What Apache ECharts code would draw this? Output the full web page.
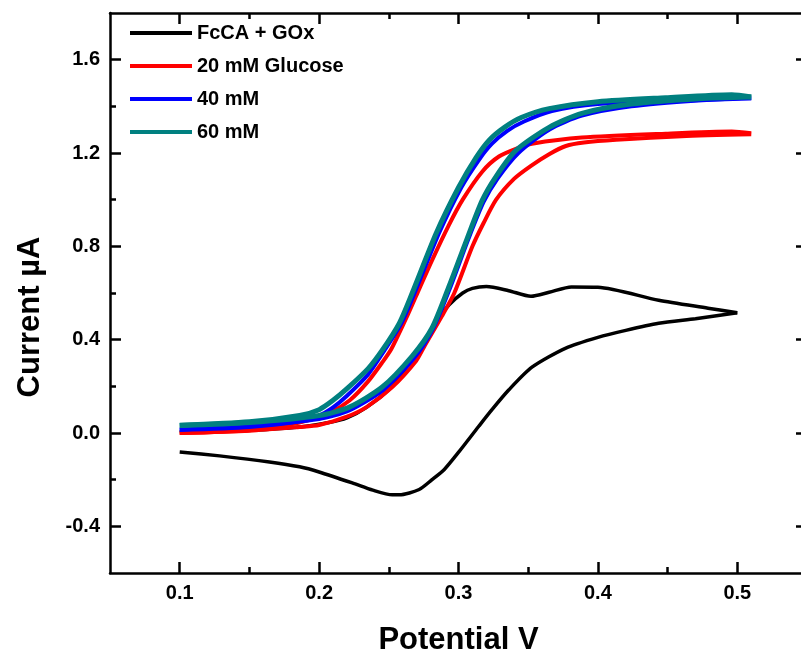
<!DOCTYPE html>
<html>
<head>
<meta charset="utf-8">
<script src="https://cdn.jsdelivr.net/npm/echarts@6/dist/echarts.min.js"></script>
<style>
  html, body { margin: 0; padding: 0; background: #fff; }
  #chart { width: 801px; height: 652px; }
</style>
</head>
<body>
<div id="chart"></div>
<script>
// Cyclic voltammograms: potential (V) vs current (µA), each scan split into its two branches.

// FcCA + GOx (no glucose)
const fcFwdPot = [0.10, 0.15, 0.186, 0.207, 0.22, 0.234, 0.2525, 0.2646, 0.2697, 0.281, 0.288, 0.2933, 0.303, 0.31, 0.32, 0.336, 0.352, 0.365, 0.381, 0.40, 0.4436, 0.479, 0.50];
const fcFwdCur = [0.005, 0.012, 0.026, 0.045, 0.065, 0.11, 0.20, 0.30, 0.345, 0.44, 0.51, 0.55, 0.60, 0.62, 0.628, 0.61, 0.586, 0.603, 0.626, 0.625, 0.569, 0.535, 0.515];
const fcRevPot = [0.50, 0.47, 0.4436, 0.42, 0.40, 0.377, 0.3527, 0.336, 0.324, 0.3147, 0.3004, 0.29, 0.281, 0.2718, 0.2575, 0.2525, 0.2385, 0.2238, 0.20, 0.186, 0.1644, 0.1286, 0.10];
const fcRevCur = [0.515, 0.49, 0.47, 0.44, 0.41, 0.364, 0.282, 0.184, 0.10, 0.03, -0.08, -0.155, -0.20, -0.242, -0.265, -0.265, -0.245, -0.214, -0.167, -0.145, -0.124, -0.098, -0.081];

// 20 mM glucose
const g20PotA = [0.10, 0.15, 0.186, 0.21, 0.222, 0.235, 0.245, 0.2518, 0.2646, 0.272, 0.281, 0.293, 0.303, 0.317, 0.329, 0.343, 0.3527, 0.3885, 0.4486, 0.496, 0.51];
const g20CurA = [0.0, 0.012, 0.045, 0.095, 0.14, 0.22, 0.30, 0.36, 0.52, 0.62, 0.74, 0.89, 1.00, 1.12, 1.185, 1.222, 1.24, 1.266, 1.283, 1.292, 1.285];
const g20PotB = [0.51, 0.46, 0.413, 0.39, 0.377, 0.365, 0.352, 0.34, 0.327, 0.318, 0.31, 0.297, 0.288, 0.2754, 0.2697, 0.2525, 0.234, 0.22, 0.20, 0.186, 0.15, 0.10];
const g20CurB = [1.28, 1.272, 1.257, 1.245, 1.23, 1.195, 1.145, 1.09, 1.0, 0.90, 0.80, 0.60, 0.50, 0.37, 0.31, 0.197, 0.111, 0.07, 0.034, 0.026, 0.01, 0.0];

// 40 mM glucose
const g40PotA = [0.10, 0.15, 0.186, 0.20, 0.21, 0.22, 0.235, 0.247, 0.259, 0.2685, 0.286, 0.302, 0.3146, 0.324, 0.335, 0.347, 0.367, 0.40, 0.4486, 0.496, 0.51];
const g40CurA = [0.013, 0.026, 0.05, 0.075, 0.11, 0.16, 0.25, 0.355, 0.47, 0.60, 0.856, 1.052, 1.17, 1.24, 1.295, 1.335, 1.38, 1.41, 1.422, 1.432, 1.435];
const g40PotB = [0.51, 0.472, 0.424, 0.3885, 0.365, 0.343, 0.328, 0.318, 0.307, 0.2945, 0.282, 0.268, 0.246, 0.222, 0.20, 0.15, 0.10];
const g40CurB = [1.435, 1.425, 1.40, 1.36, 1.30, 1.20, 1.09, 0.99, 0.83, 0.63, 0.45, 0.32, 0.185, 0.098, 0.06, 0.03, 0.015];

// 60 mM glucose
const g60PotA = [0.10, 0.15, 0.186, 0.20, 0.21, 0.22, 0.235, 0.2453, 0.2575, 0.2668, 0.284, 0.30, 0.3126, 0.322, 0.333, 0.345, 0.365, 0.40, 0.4486, 0.496, 0.51];
const g60CurA = [0.033, 0.048, 0.075, 0.10, 0.14, 0.19, 0.275, 0.355, 0.47, 0.60, 0.856, 1.052, 1.18, 1.255, 1.31, 1.352, 1.39, 1.42, 1.437, 1.45, 1.44];
const g60PotB = [0.51, 0.472, 0.424, 0.3885, 0.365, 0.341, 0.327, 0.317, 0.306, 0.2933, 0.281, 0.2668, 0.2453, 0.2217, 0.20, 0.15, 0.10];
const g60CurB = [1.44, 1.433, 1.41, 1.37, 1.31, 1.21, 1.10, 0.997, 0.83, 0.63, 0.45, 0.33, 0.197, 0.111, 0.075, 0.045, 0.032];

const seriesNames = ['FcCA + GOx', '20 mM Glucose', '40 mM', '60 mM'];

// Axis ticks
const xMajor = [0.1, 0.2, 0.3, 0.4, 0.5];
const xMinor = [0.15, 0.25, 0.35, 0.45];
const yMajor = [-0.4, 0.0, 0.4, 0.8, 1.2, 1.6];
const yMinor = [-0.2, 0.2, 0.6, 1.0, 1.4];

const zip = (xs, ys) => xs.map((x, i) => [x, ys[i]]);

const FONT = 'Liberation Sans, Arial, sans-serif';
const AXIS_W = 2.5;

function branch(name, color, width, xs, ys) {
  return {
    name: name,
    type: 'line',
    data: zip(xs, ys),
    showSymbol: false,
    smooth: 0.25,
    lineStyle: { color: color, width: width },
    itemStyle: { color: color },
    silent: true
  };
}

function xAxisDef(pos, ticks, len, withLine, withLabel) {
  return {
    type: 'value', position: pos, min: 0.05, max: 0.55,
    axisLine: { show: withLine, onZero: false, lineStyle: { color: '#000', width: AXIS_W } },
    axisTick: { show: true, inside: true, length: len, customValues: ticks, lineStyle: { color: '#000', width: AXIS_W } },
    axisLabel: withLabel ? {
      show: true, customValues: ticks, formatter: v => v.toFixed(1), margin: 10,
      color: '#000', fontSize: 20, fontWeight: 'bold', fontFamily: FONT
    } : { show: false },
    splitLine: { show: false }
  };
}

function yAxisDef(pos, ticks, len, withLine, withLabel) {
  return {
    type: 'value', position: pos, min: -0.6, max: 1.8,
    axisLine: { show: withLine, onZero: false, lineStyle: { color: '#000', width: AXIS_W } },
    axisTick: { show: true, inside: true, length: len, customValues: ticks, lineStyle: { color: '#000', width: AXIS_W } },
    axisLabel: withLabel ? {
      show: true, customValues: ticks, formatter: v => v.toFixed(1), margin: 10,
      color: '#000', fontSize: 20, fontWeight: 'bold', fontFamily: FONT
    } : { show: false },
    splitLine: { show: false }
  };
}

const xBottom = xAxisDef('bottom', xMajor, 11, true, true);
xBottom.name = 'Potential V';
xBottom.nameLocation = 'middle';
xBottom.nameGap = 52;
xBottom.nameTextStyle = { color: '#000', fontSize: 31, fontWeight: 'bold', fontFamily: FONT };

const chart = echarts.init(document.getElementById('chart'), null, { renderer: 'canvas' });
chart.setOption({
  animation: false,
  backgroundColor: '#fff',
  grid: { left: 110, top: 13, width: 697, height: 560, containLabel: false, outerBoundsMode: 'none' },
  legend: {
    data: seriesNames,
    orient: 'vertical',
    left: 130, top: 23,
    padding: 0,
    itemGap: 13,
    itemWidth: 62, itemHeight: 4,
    icon: 'rect',
    selectedMode: false,
    textStyle: { color: '#000', fontSize: 20, fontWeight: 'bold', fontFamily: FONT, lineHeight: 20 }
  },
  graphic: [{
    type: 'text',
    x: 30, y: 317,
    rotation: Math.PI / 2,
    style: {
      text: 'Current µA',
      fill: '#000',
      font: 'bold 31px ' + FONT,
      align: 'center',
      verticalAlign: 'middle'
    }
  }],
  xAxis: [
    xBottom,
    xAxisDef('bottom', xMinor, 6, false, false),
    xAxisDef('top', xMajor, 11, true, false),
    xAxisDef('top', xMinor, 6, false, false)
  ],
  yAxis: [
    yAxisDef('left', yMajor, 11, true, true),
    yAxisDef('left', yMinor, 6, false, false),
    yAxisDef('right', yMajor, 11, true, false),
    yAxisDef('right', yMinor, 6, false, false)
  ],
  series: [
    branch(seriesNames[0], '#000000', 3.5, fcFwdPot, fcFwdCur),
    branch(seriesNames[0], '#000000', 3.5, fcRevPot, fcRevCur),
    branch(seriesNames[1], '#ff0000', 4, g20PotA, g20CurA),
    branch(seriesNames[1], '#ff0000', 4, g20PotB, g20CurB),
    branch(seriesNames[2], '#0000ff', 4, g40PotA, g40CurA),
    branch(seriesNames[2], '#0000ff', 4, g40PotB, g40CurB),
    branch(seriesNames[3], '#008080', 5, g60PotA, g60CurA),
    branch(seriesNames[3], '#008080', 5, g60PotB, g60CurB)
  ]
});
</script>
</body>
</html>
